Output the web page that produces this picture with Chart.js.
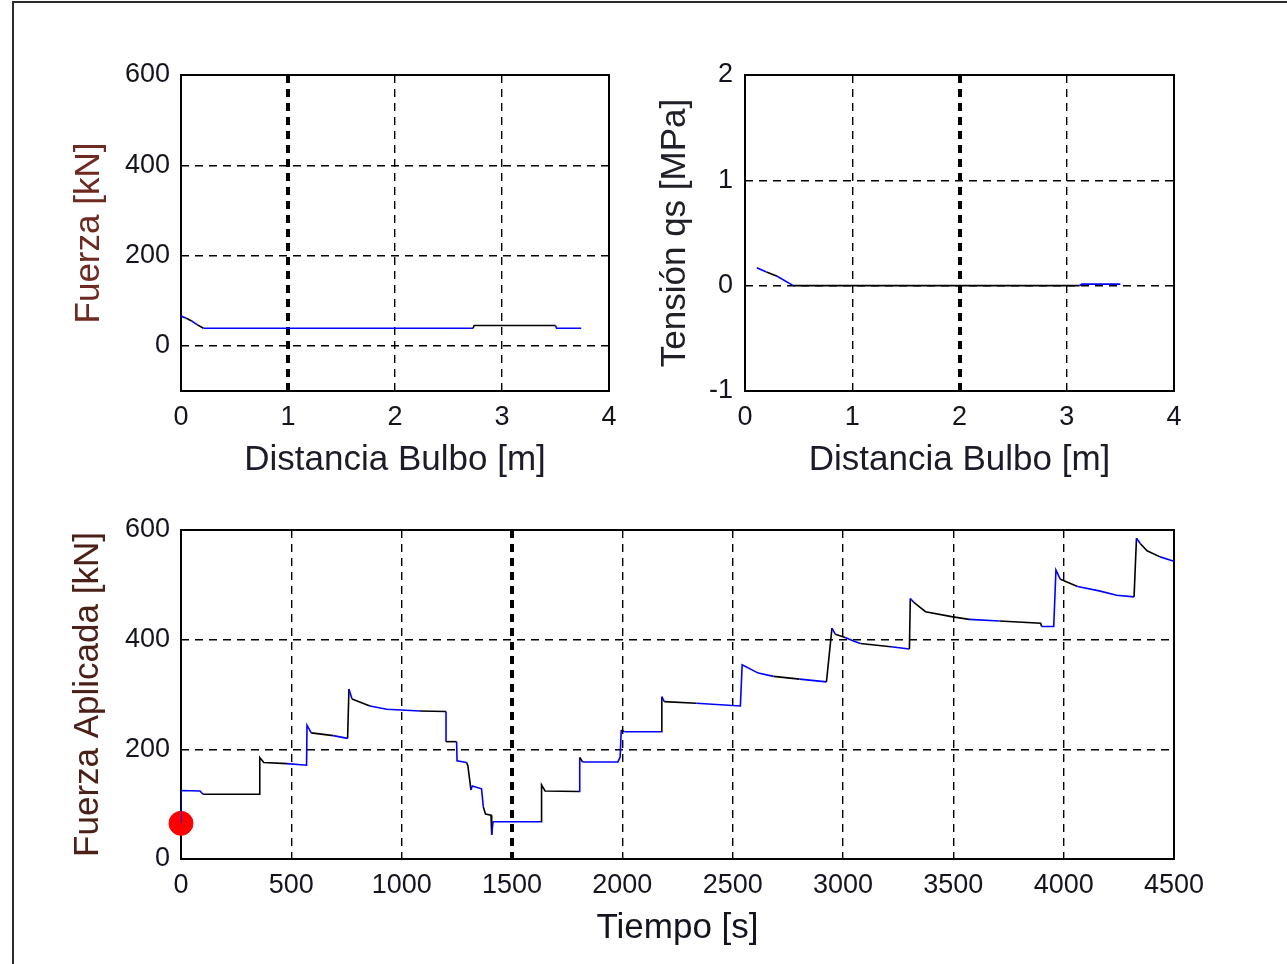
<!DOCTYPE html>
<html>
<head>
<meta charset="utf-8">
<script src="https://cdn.jsdelivr.net/npm/chart.js@4/dist/chart.umd.min.js"></script>
<style>
  html, body { margin: 0; padding: 0; background: #fff; }
  #fig { position: relative; width: 1287px; height: 964px; overflow: hidden; background: #fff; }
  #frame { position: absolute; left: 12px; top: 1px; width: 1300px; height: 1000px;
           border-left: 2px solid #2a2a2a; border-top: 2px solid #2a2a2a; }
  canvas { position: absolute; }
</style>
</head>
<body>
<div id="fig">
  <div id="frame"></div>
  <canvas id="cFuerza" width="640" height="500" style="left:0;top:0"></canvas>
  <canvas id="cTension" width="647" height="500" style="left:640px;top:0"></canvas>
  <canvas id="cTiempo" width="1287" height="464" style="left:0;top:500px"></canvas>
</div>
<script>
// ---- Fuerza a lo largo del bulbo ----
const distFuerza = [0, 0.05, 0.10, 0.15, 0.21, 2.73, 2.74, 3.50, 3.51, 3.74];
const fuerzaBulbo = [66, 61, 55, 47, 39, 39, 45, 45, 39, 39];
const inkFuerza = 'bkbkbkkbb';

// ---- Tensión de corte a lo largo del bulbo ----
const distTension = [0.11, 0.20, 0.30, 0.45, 3.12, 3.14, 3.50];
const tensionQs = [0.17, 0.13, 0.09, 0.0, 0.0, 0.015, 0.015];
const inkTension = 'bkbkbb';

// ---- Historia de carga aplicada ----
const tiempoS = [
  0, 0, 86, 100, 355, 357, 375, 480, 569, 571,
  590, 690, 755, 761, 775, 856, 932, 1083, 1201, 1201,
  1249, 1251, 1294, 1300, 1314, 1320, 1362, 1370, 1380, 1405,
  1408, 1414, 1632, 1634, 1650, 1805, 1807, 1820, 1980, 1990,
  1995, 2010, 2177, 2179, 2190, 2335, 2535, 2543, 2616, 2685,
  2803, 2925, 2950, 2965, 3010, 3050, 3079, 3217, 3301, 3305,
  3321, 3374, 3492, 3571, 3709, 3896, 3900, 3955, 3965, 3985,
  4063, 4161, 4240, 4319, 4330, 4348, 4378, 4437, 4500
];
const fuerzaAplicada = [
  65, 125, 124, 118, 118, 185, 176, 174, 171, 244,
  230, 225, 220, 310, 292, 279, 273, 270, 269, 214,
  214, 179, 176, 170, 126, 133, 128, 95, 82, 80,
  44, 68, 68, 135, 124, 123, 185, 177, 177, 186,
  235, 232, 232, 296, 287, 284, 279, 354, 339, 333,
  328, 323, 421, 410, 404, 397, 393, 387, 383, 475,
  468, 451, 442, 437, 434, 430, 424, 424, 527, 510,
  497, 489, 481, 478, 585, 575, 562, 551, 543
];
const inkTiempo =
  'bbbkkkkbbb' + 'kbkbkbbkbk' + 'bbkkbbbkkk' + 'bbkkkbkbbb' +
  'kbkbkbbbbk' + 'bkbkbbkbkb' + 'kkkbkkbbbk' + 'bbbkbkkb';
// posición actual marcada en el registro
const puntoActual = { t: 0, F: 65 };

// ejes
const ticksDist = [0, 1, 2, 3, 4];
const ticksFuerza = [0, 200, 400, 600];
const ticksTension = [-1, 0, 1, 2];
const ticksTiempo = [0, 500, 1000, 1500, 2000, 2500, 3000, 3500, 4000, 4500];

const INK = { b: '#0000ff', k: '#000000' };
const TICK_FONT = { family: 'Liberation Sans, Arial, sans-serif', size: 27 };
const TITLE_FONT = { family: 'Liberation Sans, Arial, sans-serif', size: 35 };

// marco del área de trazado
const boxPlugin = {
  id: 'box',
  beforeDatasetsDraw(chart) {
    const a = chart.chartArea, ctx = chart.ctx;
    ctx.save();
    ctx.strokeStyle = '#000';
    ctx.lineWidth = 2;
    ctx.setLineDash([]);
    ctx.strokeRect(a.left, a.top, a.right - a.left, a.bottom - a.top);
    ctx.restore();
  }
};

function axis(opts) {
  return {
    type: 'linear',
    min: opts.min, max: opts.max,
    afterBuildTicks: s => { s.ticks = opts.ticks.map(v => ({ value: v })); },
    afterFit: s => { if (opts.width) s.width = opts.width; if (opts.height) s.height = opts.height; },
    border: { display: false, dash: [8, 6] },
    grid: {
      color: '#000',
      drawTicks: false,
      lineWidth: c => (c.tick && c.tick.value === opts.heavy) ? 4 : 1.4
    },
    ticks: {
      font: TICK_FONT, color: '#141420', padding: opts.tickPad,
      maxRotation: 0, autoSkip: false,
      callback: v => String(v)
    },
    title: {
      display: true, text: opts.title, font: TITLE_FONT, color: opts.titleColor,
      padding: opts.titlePad
    }
  };
}

function line(xs, ys, ink) {
  return {
    data: xs.map((x, i) => ({ x: x, y: ys[i] })),
    borderColor: INK.b,
    borderWidth: 1.6,
    pointRadius: 0,
    tension: 0,
    segment: { borderColor: c => INK[ink[c.p0DataIndex]] || INK.b }
  };
}

function panel(id, datasets, pad, xOpts, yOpts) {
  return new Chart(document.getElementById(id), {
    type: 'scatter',
    data: { datasets: datasets },
    options: {
      responsive: false, animation: false, devicePixelRatio: 1,
      showLine: true,
      layout: { padding: pad },
      plugins: { legend: { display: false }, tooltip: { enabled: false } },
      scales: { x: axis(xOpts), y: axis(yOpts) }
    },
    plugins: [boxPlugin]
  });
}

panel('cFuerza',
  [line(distFuerza, fuerzaBulbo, inkFuerza)],
  { top: 75, right: 31, left: 0, bottom: 0 },
  { min: 0, max: 4, ticks: ticksDist, heavy: 1, height: 109, tickPad: 10,
    title: 'Distancia Bulbo [m]', titleColor: '#1c1c28', titlePad: { top: 0, bottom: 19 } },
  { min: -100, max: 600, ticks: ticksFuerza, width: 181, tickPad: 11,
    title: 'Fuerza [kN]', titleColor: '#6e2a20', titlePad: { top: 68, bottom: 0 } }
);

panel('cTension',
  [line(distTension, tensionQs, inkTension)],
  { top: 75, right: 113, left: 0, bottom: 0 },
  { min: 0, max: 4, ticks: ticksDist, heavy: 2, height: 109, tickPad: 10,
    title: 'Distancia Bulbo [m]', titleColor: '#1c1c28', titlePad: { top: 0, bottom: 19 } },
  { min: -1, max: 2, ticks: ticksTension, width: 105, tickPad: 12,
    title: 'Tensión qs [MPa]', titleColor: '#202028', titlePad: { top: 14, bottom: 0 } }
);

panel('cTiempo',
  [
    line(tiempoS, fuerzaAplicada, inkTiempo),
    {
      data: [{ x: puntoActual.t, y: puntoActual.F }],
      showLine: false, pointRadius: 12, pointStyle: 'circle',
      backgroundColor: '#ff0000', borderColor: '#ff0000', borderWidth: 1,
      clip: false
    }
  ],
  { top: 30, right: 113, left: 0, bottom: 0 },
  { min: 0, max: 4500, ticks: ticksTiempo, heavy: 1500, height: 105, tickPad: 10,
    title: 'Tiempo [s]', titleColor: '#141420', titlePad: { top: 0, bottom: 15 } },
  { min: 0, max: 600, ticks: ticksFuerza, width: 181, tickPad: 11,
    title: 'Fuerza Aplicada [kN]', titleColor: '#4a2018', titlePad: { top: 67, bottom: 0 } }
);
</script>
</body>
</html>
